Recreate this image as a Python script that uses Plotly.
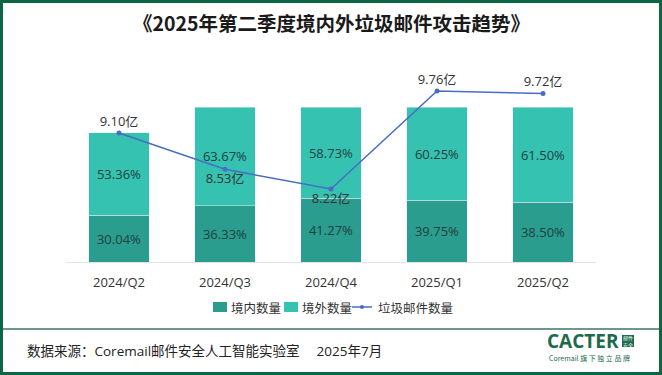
import plotly.graph_objects as go

categories = ["2024/Q2", "2024/Q3", "2024/Q4", "2025/Q1", "2025/Q2"]
domestic = [30.04, 36.33, 41.27, 39.75, 38.50]
foreign = [53.36, 63.67, 58.73, 60.25, 61.50]
spam = [9.10, 8.53, 8.22, 9.76, 9.72]
spam_label_pos = ["top center", "bottom center", "bottom center", "top center", "top center"]
legend_names = ["境内数量", "境外数量", "垃圾邮件数量"]

W, H = 662, 375
L, R, T, B = 66, 596, 80, 262  # plot area in px
pw, ph = R - L, B - T


def px(x):
    return (x - L) / pw


def py(y):
    return (B - y) / ph


FONT = "Open Sans, Noto Sans CJK SC, sans-serif"
CJK = "Noto Sans CJK SC, sans-serif"
DARK = "#2a9d8f"
LIGHT = "#35c2b1"
LINE = "#4a6cc4"
TXT = "#1e3f3d"

fig = go.Figure()
fig.add_trace(go.Bar(
    x=categories, y=domestic, name=legend_names[0], marker_color=DARK,
    text=[f"{v:.2f}%" for v in domestic], textposition="inside",
    insidetextanchor="middle", textfont=dict(color=TXT, size=13, family=FONT),
    hoverinfo="skip", showlegend=False,
))
fig.add_trace(go.Bar(
    x=categories, y=foreign, name=legend_names[1], marker_color=LIGHT,
    text=[f"{v:.2f}%" for v in foreign], textposition="inside",
    insidetextanchor="middle", textfont=dict(color=TXT, size=13, family=FONT),
    hoverinfo="skip", showlegend=False,
))
fig.add_trace(go.Scatter(
    x=categories, y=spam, name=legend_names[2], yaxis="y2",
    mode="lines+markers+text", line=dict(color=LINE, width=1.5),
    marker=dict(color=LINE, size=5),
    text=[f"{v:.2f}亿" for v in spam], textposition=spam_label_pos,
    textfont=dict(color="#333333", size=13, family=FONT),
    cliponaxis=False, showlegend=False,
))

y1_top = (B - T) / 1.55
fig.update_layout(
    width=W, height=H,
    margin=dict(l=L, r=W - R, t=T, b=H - B, pad=0, autoexpand=False),
    paper_bgcolor="white", plot_bgcolor="white",
    barmode="stack", bargap=0.43,
    font=dict(family=FONT, size=13, color="#333333"),
    showlegend=False,
    xaxis=dict(showgrid=False, showline=True, linecolor="#e3e3e3", linewidth=1,
               ticks="", ticklabelstandoff=8,
               tickfont=dict(size=13, color="#333333"), fixedrange=True),
    yaxis=dict(range=[0, y1_top], visible=False, showgrid=False),
    yaxis2=dict(range=[9.10 - (B - 133) / 63.6, 9.10 + (133 - T) / 63.6],
                overlaying="y", visible=False, showgrid=False),
)

# Title
fig.add_annotation(
    xref="paper", yref="paper", x=px(331), y=py(22), xanchor="center", yanchor="middle",
    text="<b>《2025年第二季度境内外垃圾邮件攻击趋势》</b>", showarrow=False,
    font=dict(family=CJK, size=19.5, color="#1a1a1a"),
)

# Custom legend
LY = 307
LF = dict(family=CJK, size=12.5, color="#333333")
fig.add_shape(type="rect", xref="paper", yref="paper",
              x0=px(213), x1=px(227), y0=py(302), y1=py(312),
              fillcolor=DARK, line=dict(width=0))
fig.add_annotation(xref="paper", yref="paper", x=px(229), y=py(LY), xanchor="left",
                   yanchor="middle", text=legend_names[0], showarrow=False, font=LF)
fig.add_shape(type="rect", xref="paper", yref="paper",
              x0=px(284), x1=px(298), y0=py(302), y1=py(312),
              fillcolor=LIGHT, line=dict(width=0))
fig.add_annotation(xref="paper", yref="paper", x=px(300), y=py(LY), xanchor="left",
                   yanchor="middle", text=legend_names[1], showarrow=False, font=LF)
fig.add_shape(type="line", xref="paper", yref="paper",
              x0=px(352), x1=px(372), y0=py(LY), y1=py(LY),
              line=dict(color=LINE, width=1.5))
fig.add_shape(type="circle", xref="paper", yref="paper",
              x0=px(360), x1=px(364), y0=py(LY - 2), y1=py(LY + 2),
              fillcolor=LINE, line=dict(width=0))
fig.add_annotation(xref="paper", yref="paper", x=px(376), y=py(LY), xanchor="left",
                   yanchor="middle", text=legend_names[2], showarrow=False, font=LF)

# Footer text
fig.add_annotation(
    xref="paper", yref="paper", x=px(25), y=py(351), xanchor="left", yanchor="middle",
    text="数据来源：Coremail邮件安全人工智能实验室　 2025年7月", showarrow=False,
    font=dict(family=FONT, size=13.5, color="#222222"),
)

# Logo
fig.add_annotation(
    xref="paper", yref="paper", x=px(621), y=py(341), xanchor="right", yanchor="middle",
    text="<b>CACTER</b>", showarrow=False,
    font=dict(family="Open Sans, sans-serif", size=19, color="#1d6b4c"),
)
fig.add_shape(type="rect", xref="paper", yref="paper",
              x0=px(622), x1=px(634), y0=py(335), y1=py(347),
              fillcolor="#1d6b4c", line=dict(width=0))
fig.add_annotation(
    xref="paper", yref="paper", x=px(628), y=py(341), xanchor="center", yanchor="middle",
    text="邮件<br>安全", showarrow=False,
    font=dict(family=CJK, size=5, color="white"),
)
fig.add_annotation(
    xref="paper", yref="paper", x=px(589), y=py(358), xanchor="center", yanchor="middle",
    text="Coremail 旗 下 独 立 品 牌", showarrow=False,
    font=dict(family=CJK, size=7, color="#1d6b4c"),
)

# Separator line
fig.add_shape(type="line", xref="paper", yref="paper",
              x0=px(2), x1=px(660), y0=py(329), y1=py(329),
              line=dict(color="#3d7565", width=1.5))

# Outer border
fig.add_shape(type="rect", xref="paper", yref="paper",
              x0=px(1.5), x1=px(660.5), y0=py(1.5), y1=py(373.5),
              line=dict(color="#0b6645", width=3), fillcolor="rgba(0,0,0,0)")

fig.write_html("out.html", config={"displayModeBar": False},
               post_script="document.body.style.margin='0';document.body.style.overflow='hidden';")
